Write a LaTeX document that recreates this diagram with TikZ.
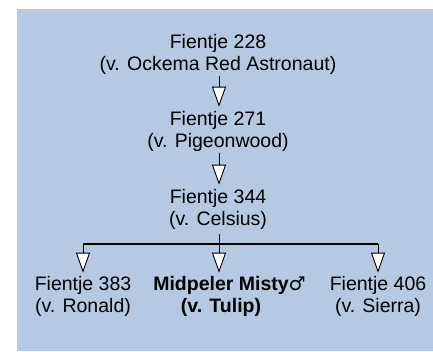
\documentclass[tikz,border=0pt]{standalone}
\usepackage{fontspec}
\setmainfont{Liberation Sans}
\newfontfamily\symbolfont{DejaVu Sans}
\usetikzlibrary{arrows.meta}
\definecolor{pedigreeblue}{RGB}{181,201,227}

\begin{document}
\begin{tikzpicture}[x=1pt,y=-1pt]
        \tikzset{
            dog/.style = {align=center, inner sep=0pt, font=\fontsize{19.5}{22}\selectfont},
            arrow/.style = {line width=0.9pt,-{Triangle[open,fill=white,length=20pt,width=14pt]}},
            forkline/.style = {line width=1.8pt}
        }
        \useasboundingbox (0,0) rectangle (433,351);
        \fill[pedigreeblue] (17,9) rectangle (433,351);

        \node (f228) [dog] at (218,54) {Fientje 228\\(v. Ockema Red Astronaut)};
        \node (f271) [dog] at (218,131) {Fientje 271\\(v. Pigeonwood)};
        \node (f344) [dog] at (218,209) {Fientje 344\\(v. Celsius)};
        \coordinate (fork) at (219,244);

        \node (f383) [dog] at (83,296) {Fientje 383\\(v. Ronald)};
        \node (misty) [dog] at (221,296) {\textbf{Midpeler Misty}\rlap{{\symbolfont\fontsize{19}{22}\selectfont ♂}}\\\textbf{(v. Tulip)}};
        \node (f406) [dog] at (378,296) {Fientje 406\\(v. Sierra)};

        \draw [arrow, shorten <=2pt, shorten >=4pt] (f228.south -| fork) -- (f271.north -| fork);
        \draw [arrow, shorten <=2pt, shorten >=4pt] (f271.south -| fork) -- (f344.north -| fork);
        \draw [line width=0.9pt, shorten <=5pt] (f344.south -| fork) -- (fork);
        \draw [forkline] (fork -| f383) -- (fork -| f406);

        \draw [arrow, shorten >=3pt] (fork -| f383) -- (f383.north);
        \draw [arrow, shorten >=3pt] (fork) -- (misty.north -| fork);
        \draw [arrow, shorten >=3pt] (fork -| f406) -- (f406.north);

    \end{tikzpicture}
\end{document}
